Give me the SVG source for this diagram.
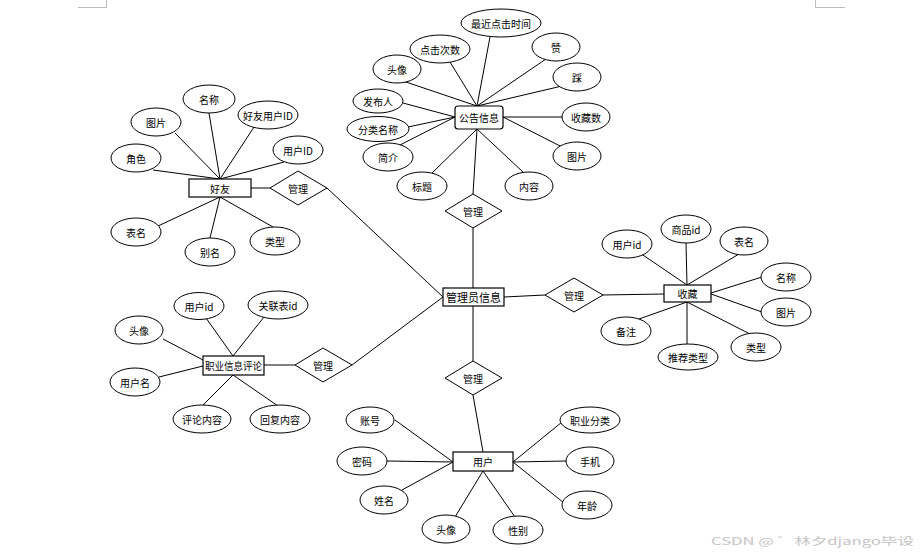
<svg xmlns="http://www.w3.org/2000/svg" width="921" height="556" viewBox="0 0 921 556">
<style>
.e{fill:#fff;stroke:#000;stroke-width:1}
.r{fill:#fff;stroke:#000;stroke-width:1.2}
.d{fill:#fff;stroke:#000;stroke-width:1}
.l{stroke:#000;stroke-width:1;fill:none}
text{font-family:"Noto Sans CJK SC","Liberation Sans",sans-serif;font-size:10px;text-anchor:middle;dominant-baseline:central;fill:#000}
.big{font-size:11.5px}
.wm{fill:#c4c4c4;text-anchor:start}
.cm{stroke:#bbb;stroke-width:1;fill:none}
</style>
<rect width="921" height="556" fill="#fff"/>
<path class="cm" d="M78 7.5H106.5V0M815.5 0V7.5H845"/>
<g id="connectors">
<path class="l" d="M477 106L397 79M477 106L450 62M477 106L490 37M477 106L546 59M477 106L562 86M455 117L403 103M455 117L408 127M455 117L400 145M503 117L562 117M503 117L564 148M477 129L432 173M477 129L524 173M477 129L473 194"/>
<path class="l" d="M220 179L209 113M220 179L175 133M220 179L254 127M220 179L284 162M220 179L153 170M220 197L158 226M220 197L210 238M220 197L273 227M251 188L270 188M327 188L443 297"/>
<path class="l" d="M473 228L473 288M504 297L545 295M473 306L473 361M352 365L443 297"/>
<path class="l" d="M602 295L664 294M687 285L640 253M687 285L686 243M687 285L739 254M711 293L762 277M711 294L762 312M687 302L639 319M687 302L687 344M687 302L750 334"/>
<path class="l" d="M264 365L295 365M233 356L206 318M233 356L264 317M203 360L163 339M203 366L159 377M233 375L202 406M233 375L278 406"/>
<path class="l" d="M473 395L483 452M453 462L395 420M453 462L387 461M453 462L402 490M483 471L455 517M483 471L515 517M513 462L562 422M513 462L566 461M513 462L564 503"/>
</g>
<g id="gonggao"><rect class="r" x="455" y="106" width="48" height="23" rx="3"/><text x="479" y="117.5">公告信息</text></g>
<g id="a1"><ellipse class="e" cx="501" cy="23" rx="40" ry="14"/><text x="501" y="23">最近点击时间</text></g>
<g id="a2"><ellipse class="e" cx="440" cy="49" rx="30" ry="14"/><text x="440" y="49">点击次数</text></g>
<g id="a3"><ellipse class="e" cx="556" cy="47" rx="24" ry="14"/><text x="556" y="47">赞</text></g>
<g id="a4"><ellipse class="e" cx="397" cy="69" rx="24" ry="14"/><text x="397" y="69">头像</text></g>
<g id="a5"><ellipse class="e" cx="577" cy="77" rx="24" ry="14"/><text x="577" y="77">踩</text></g>
<g id="a6"><ellipse class="e" cx="378" cy="101" rx="25" ry="12"/><text x="378" y="101">发布人</text></g>
<g id="a7"><ellipse class="e" cx="378" cy="129" rx="31" ry="12.5"/><text x="378" y="129">分类名称</text></g>
<g id="a8"><ellipse class="e" cx="586" cy="117" rx="24" ry="14"/><text x="586" y="117">收藏数</text></g>
<g id="a9"><ellipse class="e" cx="388" cy="157" rx="25" ry="14"/><text x="388" y="157">简介</text></g>
<g id="a10"><ellipse class="e" cx="577" cy="156" rx="24" ry="14"/><text x="577" y="156">图片</text></g>
<g id="a11"><ellipse class="e" cx="422" cy="186" rx="25" ry="14"/><text x="422" y="186">标题</text></g>
<g id="a12"><ellipse class="e" cx="529" cy="186" rx="24" ry="14"/><text x="529" y="186">内容</text></g>
<g id="m1"><polygon class="d" points="473,194 502,211 473,228 445,211"/><text x="473" y="211">管理</text></g>

<g id="haoyou"><rect class="r" x="189" y="179" width="62" height="18"/><text x="220" y="188">好友</text></g>
<g id="b1"><ellipse class="e" cx="209" cy="99" rx="26" ry="14"/><text x="209" y="99">名称</text></g>
<g id="b2"><ellipse class="e" cx="156" cy="122" rx="25" ry="14"/><text x="156" y="122">图片</text></g>
<g id="b3"><ellipse class="e" cx="268" cy="115" rx="30" ry="14"/><text x="268" y="115">好友用户ID</text></g>
<g id="b4"><ellipse class="e" cx="298" cy="150" rx="25" ry="14"/><text x="298" y="150">用户ID</text></g>
<g id="b5"><ellipse class="e" cx="136" cy="158" rx="25" ry="14"/><text x="136" y="158">角色</text></g>
<g id="b6"><ellipse class="e" cx="136" cy="232" rx="25" ry="14"/><text x="136" y="232">表名</text></g>
<g id="b7"><ellipse class="e" cx="210" cy="252" rx="25" ry="14"/><text x="210" y="252">别名</text></g>
<g id="b8"><ellipse class="e" cx="275" cy="241" rx="25" ry="14"/><text x="275" y="241">类型</text></g>
<g id="m2"><polygon class="d" points="298,171 327,188 298,205 270,188"/><text x="298" y="188">管理</text></g>

<g id="admin"><rect class="r" x="443" y="288" width="61" height="18"/><text class="big" x="473.5" y="297" textLength="55" lengthAdjust="spacingAndGlyphs">管理员信息</text></g>

<g id="m3"><polygon class="d" points="574,278 603,295 574,312 545,295"/><text x="574" y="295">管理</text></g>
<g id="shoucang"><rect class="r" x="664" y="285" width="47" height="17"/><text x="687.5" y="293.5">收藏</text></g>
<g id="c1"><ellipse class="e" cx="627" cy="244" rx="25" ry="14"/><text x="627" y="244">用户id</text></g>
<g id="c2"><ellipse class="e" cx="686" cy="229" rx="25" ry="14"/><text x="686" y="229">商品id</text></g>
<g id="c3"><ellipse class="e" cx="744" cy="241" rx="24" ry="14"/><text x="744" y="241">表名</text></g>
<g id="c4"><ellipse class="e" cx="786" cy="277" rx="25" ry="14"/><text x="786" y="277">名称</text></g>
<g id="c5"><ellipse class="e" cx="786" cy="312" rx="25" ry="14"/><text x="786" y="312">图片</text></g>
<g id="c6"><ellipse class="e" cx="756" cy="347" rx="25" ry="14"/><text x="756" y="347">类型</text></g>
<g id="c7"><ellipse class="e" cx="688" cy="357" rx="30" ry="13"/><text x="688" y="357">推荐类型</text></g>
<g id="c8"><ellipse class="e" cx="626" cy="331" rx="25" ry="14"/><text x="626" y="331">备注</text></g>

<g id="m4"><polygon class="d" points="323,348 352,365 323,382 295,365"/><text x="323" y="365">管理</text></g>
<g id="pinglun"><rect class="r" x="203" y="356" width="61" height="19"/><text x="233.5" y="365.5" textLength="57" lengthAdjust="spacingAndGlyphs">职业信息评论</text></g>
<g id="d1"><ellipse class="e" cx="199" cy="306" rx="25" ry="13.5"/><text x="199" y="306">用户id</text></g>
<g id="d2"><ellipse class="e" cx="278" cy="305" rx="30" ry="14"/><text x="278" y="305">关联表id</text></g>
<g id="d3"><ellipse class="e" cx="139" cy="330" rx="24" ry="14"/><text x="139" y="330">头像</text></g>
<g id="d4"><ellipse class="e" cx="135" cy="382" rx="25" ry="14"/><text x="135" y="382">用户名</text></g>
<g id="d5"><ellipse class="e" cx="202" cy="419" rx="29" ry="14"/><text x="202" y="419">评论内容</text></g>
<g id="d6"><ellipse class="e" cx="280" cy="419" rx="30" ry="14"/><text x="280" y="419">回复内容</text></g>

<g id="m5"><polygon class="d" points="473,361 502,378 473,395 445,378"/><text x="473" y="378">管理</text></g>
<g id="yonghu"><rect class="r" x="453" y="452" width="60" height="19"/><text x="483" y="461.5">用户</text></g>
<g id="e1"><ellipse class="e" cx="370" cy="420" rx="24" ry="13"/><text x="370" y="420">账号</text></g>
<g id="e2"><ellipse class="e" cx="362" cy="461" rx="25" ry="14"/><text x="362" y="461">密码</text></g>
<g id="e3"><ellipse class="e" cx="384" cy="500" rx="24" ry="14"/><text x="384" y="500">姓名</text></g>
<g id="e4"><ellipse class="e" cx="446" cy="529" rx="24" ry="14"/><text x="446" y="529">头像</text></g>
<g id="e5"><ellipse class="e" cx="518" cy="530" rx="25" ry="14"/><text x="518" y="530">性别</text></g>
<g id="e6"><ellipse class="e" cx="590" cy="420" rx="30" ry="13"/><text x="590" y="420">职业分类</text></g>
<g id="e7"><ellipse class="e" cx="590" cy="461" rx="24" ry="14"/><text x="590" y="461">手机</text></g>
<g id="e8"><ellipse class="e" cx="587" cy="505" rx="25" ry="14"/><text x="587" y="505">年龄</text></g>

<text class="wm" x="711" y="540" font-size="16.5" textLength="203" lengthAdjust="spacingAndGlyphs">CSDN @ ゛林夕django毕设</text>
</svg>
